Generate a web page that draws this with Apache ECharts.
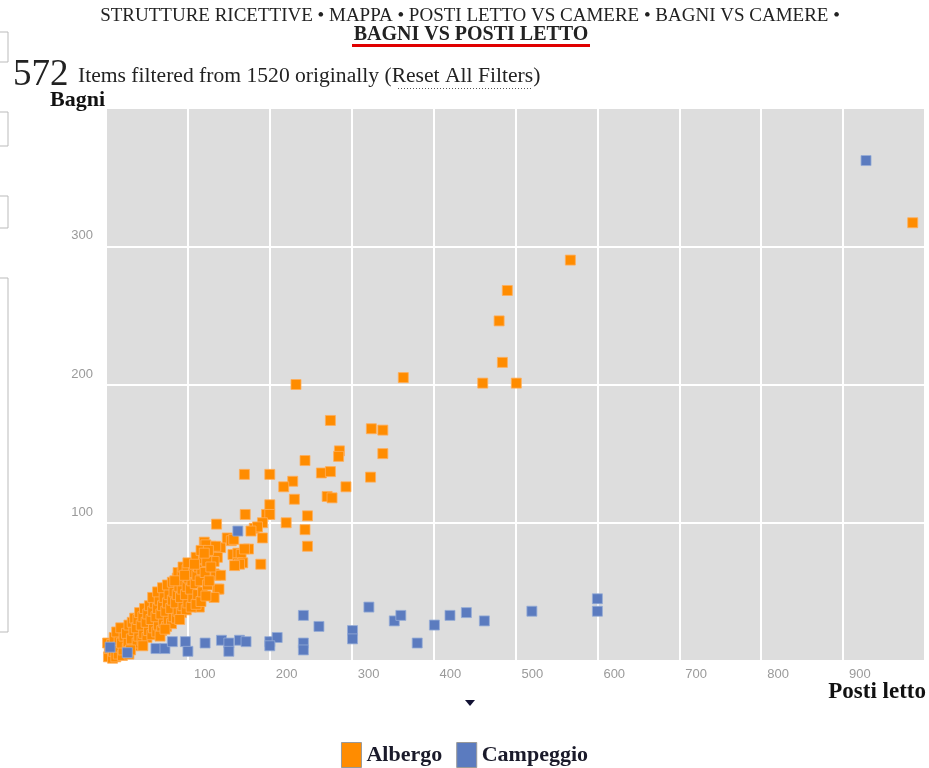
<!DOCTYPE html>
<html>
<head>
<meta charset="utf-8">
<script src="https://cdn.jsdelivr.net/npm/echarts@6/dist/echarts.min.js"></script>
<style>
html,body{margin:0;padding:0;background:#fff;}
#chart{width:929px;height:768px;}
</style>
</head>
<body>
<div id="chart"></div>
<script>
// ---- data (Posti letto, Bagni) ----
const seriesNames = ['Albergo', 'Campeggio'];
const xTicks = [100, 200, 300, 400, 500, 600, 700, 800, 900];
const yTicks = [100, 200, 300];

const albergo = [
  [985,317],[567,290],[490,268],[480,246],[484,216],[363,205],[460,201],[501,201],[232,200],
  [274,174],[324,168],[338,167],[338,150],[285,152],[284,148],[243,145],[169,135],[200,135],
  [263,136],[274,137],[323,133],[228,130],[217,126],[293,126],[230,117],[270,119],[276,118],
  [200,113],[170,106],[196,106],[200,106],[135,99],[220,100],[246,105],[191,100],[181,96],
  [185,97],[177,94],[191,89],[243,95],[246,83],[174,81],[120,86],[128,83],[140,82],[148,89],
  [153,87],[156,88],[155,77],[161,78],[165,77],[128,76],[136,75],[132,72],[189,70],[161,71],
  [167,71],[104,70],[169,81],[132,63],[134,62],[140,62],[136,52],[138,52],[132,46],[112,40],
  [114,39],[93,38],[163,70],[157,69],[122,84],[134,83],
  [3,3],[4,9],[2,13],[8,2],[9,7],[7,12],[10,17],[12,3],[15,5],[14,10],[16,15],[13,21],
  [20,4],[21,8],[19,13],[22,18],[18,24],[26,9],[27,14],[25,20],[28,26],[28,5],
  [33,11],[31,16],[34,22],[32,28],[35,31],[38,13],[40,18],[37,24],[39,30],[41,35],
  [44,15],[46,20],[43,26],[45,32],[47,38],[50,17],[52,22],[49,28],[51,34],[53,40],
  [56,19],[58,24],[55,30],[57,36],[59,42],[57,46],[62,21],[64,26],[61,32],[63,38],[65,44],[63,50],
  [68,22],[70,28],[67,34],[69,40],[71,46],[69,53],[74,25],[76,30],[73,36],[75,42],[77,48],[75,55],
  [80,27],[82,32],[79,38],[81,44],[83,50],[81,57],[86,31],[88,36],[85,42],[87,48],[89,54],[87,60],[88,64],
  [92,35],[94,40],[91,46],[93,52],[95,58],[93,64],[94,68],[98,37],[100,42],[97,48],[99,54],[101,60],[99,66],[100,71],
  [104,39],[106,46],[103,52],[105,58],[107,64],[110,41],[112,48],[109,56],[111,62],[113,68],[110,75],
  [116,43],[118,50],[115,58],[117,66],[119,74],[116,80],[122,47],[124,55],[121,64],[123,72],[125,80],
  [66,18],[72,23],[90,30],[45,11],[30,8],[84,58],[96,62],[108,70],[120,78],[128,68],[126,58]
];

const campeggio = [
  [5,10],[26,6],[61,9],[72,9],[81,14],[97,14],[100,7],[121,13],[141,15],[150,13],[150,7],
  [163,15],[171,14],[200,14],[209,17],[200,11],[241,33],[241,13],[241,8],[260,25],[301,22],
  [301,16],[321,39],[352,29],[360,33],[380,13],[401,26],[420,33],[440,35],[462,29],[520,36],
  [600,45],[600,36],[928,362],[161,94]
];

const colors = ['#ff8c00', '#5b7bbf'];
const serif = '"Liberation Serif", "DejaVu Serif", serif';
const sans = '"Liberation Sans", Arial, sans-serif';

const chart = echarts.init(document.getElementById('chart'), null, {renderer: 'canvas'});

const option = {
  animation: false,
  backgroundColor: '#ffffff',
  grid: {left: 106, top: 108, right: 4, bottom: 107, show: true, backgroundColor: '#dddddd', borderWidth: 0},
  xAxis: {
    type: 'value', min: 0, max: 1000, interval: 100,
    axisLine: {show: false}, axisTick: {show: false},
    splitLine: {show: true, lineStyle: {color: '#ffffff', width: 2}},
    axisLabel: {
      color: '#9a9a9a', fontFamily: sans, fontSize: 13, margin: 7, align: 'left', padding: [0,0,0,6],
      formatter: v => xTicks.includes(v) ? String(v) : ''
    }
  },
  yAxis: {
    type: 'value', min: 0, max: 400, interval: 100,
    axisLine: {show: false}, axisTick: {show: false},
    splitLine: {show: true, lineStyle: {color: '#ffffff', width: 2}},
    axisLabel: {
      color: '#9a9a9a', fontFamily: sans, fontSize: 13, margin: 13, verticalAlign: 'bottom', padding: [0,0,4,0],
      formatter: v => yTicks.includes(v) ? String(v) : ''
    }
  },
  legend: {
    bottom: -5, left: 'center', itemGap: 14, itemWidth: 20, itemHeight: 25, icon: 'rect',
    itemStyle: {borderColor: '#999999', borderWidth: 1},
    textStyle: {fontFamily: serif, fontWeight: 'bold', fontSize: 22, color: '#1a1a2a', padding: [0,0,0,0]},
    data: seriesNames
  },
  series: [
    {name: seriesNames[0], type: 'scatter', data: albergo, symbol: 'rect', symbolSize: 10,
     itemStyle: {color: colors[0], borderColor: 'rgba(255,175,90,1)', borderWidth: 0.8, opacity: 1}},
    {name: seriesNames[1], type: 'scatter', data: campeggio, symbol: 'rect', symbolSize: 10,
     itemStyle: {color: colors[1], borderColor: 'rgba(150,172,215,1)', borderWidth: 0.8, opacity: 1}}
  ],
  graphic: [
    {type: 'text', x: 470, y: 7, style: {text: 'STRUTTURE RICETTIVE • MAPPA • POSTI LETTO VS CAMERE • BAGNI VS CAMERE •', font: '19px ' + serif, fill: '#222', align: 'center'}},
    {type: 'text', x: 471, y: 25, style: {text: 'BAGNI VS POSTI LETTO', font: 'bold 20px ' + serif, fill: '#222', align: 'center'}},
    {type: 'rect', shape: {x: 352, y: 44, width: 238, height: 3}, style: {fill: '#e00000'}},
    {type: 'text', x: 13, y: 57, style: {text: '572', font: '37px ' + serif, fill: '#222'}},
    {type: 'text', x: 78, y: 65, style: {text: 'Items filtered from 1520 originally (Reset All Filters)', font: '21.6px ' + serif, fill: '#222'}},
    {type: 'line', shape: {x1: 398, y1: 88.5, x2: 533, y2: 88.5}, style: {stroke: '#555', lineWidth: 1, lineDash: [1, 2]}},
    {type: 'text', x: 105, y: 89, style: {text: 'Bagni', font: 'bold 22px ' + serif, fill: '#111', align: 'right'}},
    {type: 'text', x: 926, y: 681, style: {text: 'Posti letto', font: 'bold 23px ' + serif, fill: '#111', align: 'right'}},
    {type: 'polygon', shape: {points: [[465, 700], [475, 700], [470, 706]]}, style: {fill: '#111133'}},
    {type: 'rect', shape: {x: -2, y: 32, width: 10, height: 30}, style: {fill: 'none', stroke: '#bbbbbb', lineWidth: 1}},
    {type: 'rect', shape: {x: -2, y: 112, width: 10, height: 34}, style: {fill: 'none', stroke: '#bbbbbb', lineWidth: 1}},
    {type: 'rect', shape: {x: -2, y: 196, width: 10, height: 32}, style: {fill: 'none', stroke: '#bbbbbb', lineWidth: 1}},
    {type: 'rect', shape: {x: -2, y: 278, width: 10, height: 354}, style: {fill: 'none', stroke: '#bbbbbb', lineWidth: 1}}
  ]
};
chart.setOption(option);
</script>
</body>
</html>
